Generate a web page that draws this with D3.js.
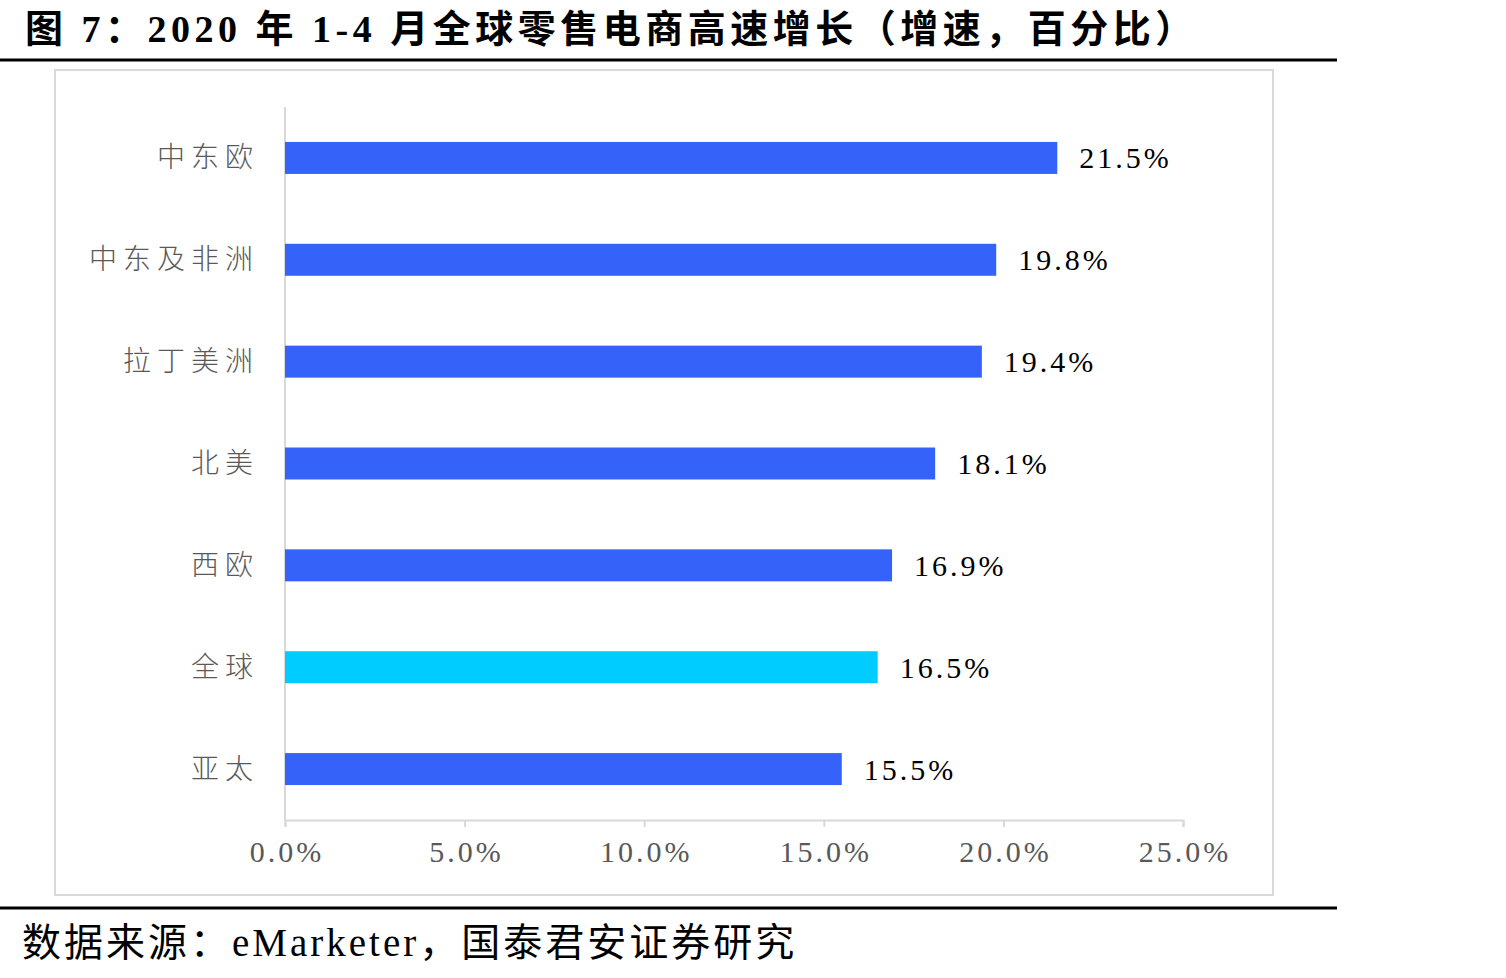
<!DOCTYPE html>
<html lang="zh">
<head>
<meta charset="utf-8">
<title>全球零售电商增速</title>
<script src="https://d3js.org/d3.v7.min.js"></script>
<style>
  body { margin: 0; background: #fff; }
</style>
</head>
<body>
<div id="chart"></div>
<script>
// data
var regions = ["中东欧", "中东及非洲", "拉丁美洲", "北美", "西欧", "全球", "亚太"];
var growth = [21.5, 19.8, 19.4, 18.1, 16.9, 16.5, 15.5];
var xTicks = [0, 5, 10, 15, 20, 25];
var highlight = "全球";

var W = 1506, H = 978;
var svg = d3.select("#chart").append("svg")
  .attr("width", W)
  .attr("height", H);

var serif = "'Liberation Serif', 'Noto Sans CJK SC', serif";

// title
svg.append("text")
  .attr("x", 25).attr("y", 42)
  .text("图 7：2020 年 1-4 月全球零售电商高速增长（增速，百分比）")
  .style("font-family", serif)
  .style("font-size", "38px")
  .style("font-weight", "bold")
  .style("letter-spacing", "4.5px")
  .style("fill", "#000");

svg.append("line")
  .attr("x1", 0).attr("x2", 1337)
  .attr("y1", 60).attr("y2", 60)
  .attr("stroke", "#000").attr("stroke-width", 3);

// chart frame
svg.append("rect")
  .attr("x", 55).attr("y", 70)
  .attr("width", 1218).attr("height", 825)
  .attr("fill", "#fff")
  .attr("stroke", "#d9d9d9")
  .attr("stroke-width", 2);

// scales
var x = d3.scaleLinear().domain([0, 25]).range([285, 1183]);
var y = d3.scaleBand().domain(regions).range([107, 820]).paddingInner(0.686).paddingOuter(0.343);

// x axis
var xAxis = svg.append("g")
  .attr("transform", "translate(0,820)")
  .call(d3.axisBottom(x).tickValues(xTicks).tickSize(7).tickPadding(14)
    .tickFormat(function(d) { return d.toFixed(1) + "%"; }));
xAxis.select(".domain").attr("stroke", "#d9d9d9").attr("stroke-width", 2);
xAxis.selectAll(".tick line").attr("stroke", "#d9d9d9").attr("stroke-width", 2);
xAxis.selectAll(".tick text")
  .attr("dx", 1.5)
  .style("font-family", serif)
  .style("font-size", "30px")
  .style("letter-spacing", "3px")
  .style("fill", "#595959");

// y axis line
svg.append("line")
  .attr("x1", 285).attr("x2", 285)
  .attr("y1", 107).attr("y2", 820)
  .attr("stroke", "#d9d9d9").attr("stroke-width", 2);

// category labels
svg.append("g").selectAll("text")
  .data(regions)
  .enter().append("text")
    .attr("x", 259)
    .attr("y", function(d) { return y(d) + y.bandwidth() / 2; })
    .attr("text-anchor", "end")
    .attr("dominant-baseline", "central")
    .style("font-family", serif)
    .style("font-size", "28px")
    .style("font-weight", "300")
    .style("letter-spacing", "6px")
    .style("fill", "#595959")
    .text(function(d) { return d; });

// bars
svg.append("g").selectAll("rect")
  .data(regions)
  .enter().append("rect")
    .attr("x", x(0))
    .attr("y", function(d) { return y(d); })
    .attr("width", function(d, i) { return x(growth[i]) - x(0); })
    .attr("height", y.bandwidth())
    .attr("fill", function(d) { return d === highlight ? "#00CCFF" : "#3562F8"; });

// value labels
svg.append("g").selectAll("text")
  .data(regions)
  .enter().append("text")
    .attr("x", function(d, i) { return x(growth[i]) + 22; })
    .attr("y", function(d) { return y(d) + y.bandwidth() / 2; })
    .attr("dominant-baseline", "central")
    .style("font-family", serif)
    .style("font-size", "30px")
    .style("letter-spacing", "3px")
    .style("fill", "#000")
    .text(function(d, i) { return growth[i].toFixed(1) + "%"; });

// footer
svg.append("line")
  .attr("x1", 0).attr("x2", 1337)
  .attr("y1", 908).attr("y2", 908)
  .attr("stroke", "#000").attr("stroke-width", 3);

svg.append("text")
  .attr("x", 22).attr("y", 956)
  .text("数据来源：eMarketer，国泰君安证券研究")
  .style("font-family", serif)
  .style("font-size", "39px")
  .style("letter-spacing", "3px")
  .style("fill", "#000");
</script>
</body>
</html>
